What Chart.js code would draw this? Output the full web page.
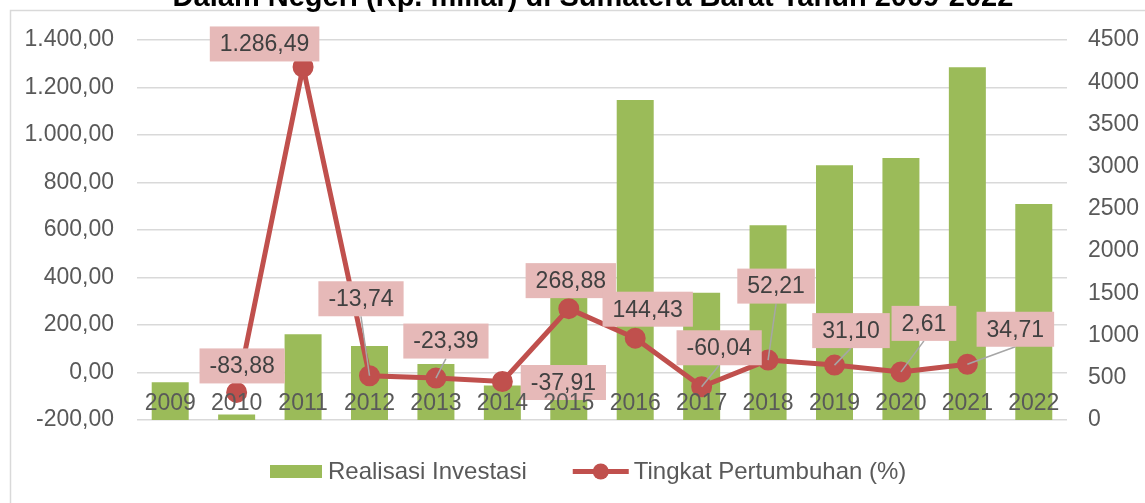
<!DOCTYPE html>
<html><head><meta charset="utf-8">
<script src="https://cdn.jsdelivr.net/npm/chart.js@4.4.0/dist/chart.umd.min.js"></script>
<style>html,body{margin:0;padding:0;background:#fff;}canvas{display:block;}</style>
</head><body>
<canvas id="c" width="1145" height="503"></canvas>
<script>
const categories = ['2009','2010','2011','2012','2013','2014','2015','2016','2017','2018','2019','2020','2021','2022'];
const investasi = [446, 65, 1015, 876, 663, 410, 1505, 3790, 1508, 2305, 3016, 3103, 4177, 2558];
const pertumbuhan = [null, -83.88, 1286.49, -13.74, -23.39, -37.91, 268.88, 144.43, -60.04, 52.21, 31.10, 2.61, 34.71, null];
const leftTickValues = [-200, 0, 200, 400, 600, 800, 1000, 1200, 1400];
const rightTickValues = [0, 500, 1000, 1500, 2000, 2500, 3000, 3500, 4000, 4500];
const seriesNames = ['Realisasi Investasi', 'Tingkat Pertumbuhan (%)'];
const titleText = 'Dalam Negeri (Rp. miliar) di Sumatera Barat Tahun 2009-2022';

// label placement (style only): offset of label box centre from its point, in px
const labelDx = [0, 5.5, -38.5, -8.5, 10, 61, 2, 12.5, 17.5, 8, 16.5, 23, 48, 0];
const labelDy = [0, -26.5, -23, -77, -37, 1, -28, -29, -39, -74, -34.5, -48.5, -35, 0];
const labelLeader = [false, false, false, true, true, false, false, false, true, true, true, true, true, false];

const FONT = '"Liberation Sans", Arial, sans-serif';
const GREEN = '#9BBB59', RED = '#C0504D', PINK = '#E6B9B8';

function fmtID(v) {
  const neg = v < 0;
  const parts = Math.abs(v).toFixed(2).split('.');
  const intPart = parts[0].replace(/\B(?=(\d{3})+(?!\d))/g, '.');
  return (neg ? '-' : '') + intPart + ',' + parts[1];
}

const decor = {
  id: 'decor',
  beforeDraw(chart) {
    const ctx = chart.ctx;
    ctx.save();
    ctx.fillStyle = '#fff';
    ctx.fillRect(0, 0, chart.width, chart.height);
    ctx.strokeStyle = '#d9d9d9';
    ctx.lineWidth = 1.5;
    ctx.strokeRect(10.5, 10.5, chart.width + 20, chart.height + 20);
    ctx.fillStyle = '#000';
    ctx.font = 'bold 29px ' + FONT;
    ctx.textAlign = 'center';
    ctx.textBaseline = 'alphabetic';
    ctx.fillText(titleText, 593, 6);
    ctx.restore();
  },
  afterDatasetsDraw(chart) {
    const ctx = chart.ctx;
    const meta = chart.getDatasetMeta(1);
    ctx.save();
    ctx.font = '23px ' + FONT;
    const boxes = [];
    pertumbuhan.forEach((v, i) => {
      if (v === null) return;
      const pt = meta.data[i];
      const txt = fmtID(v);
      const w = ctx.measureText(txt).width + 20;
      const h = 35;
      const cx = pt.x + labelDx[i], cy = pt.y + labelDy[i];
      boxes.push({txt, w, h, cx, cy, px: pt.x, py: pt.y, leader: labelLeader[i]});
    });
    ctx.strokeStyle = '#A6A6A6';
    ctx.lineWidth = 1.5;
    boxes.forEach(b => {
      if (!b.leader) return;
      ctx.beginPath();
      ctx.moveTo(b.cx, b.cy + b.h / 2);
      ctx.lineTo(b.px, b.py);
      ctx.stroke();
    });
    boxes.forEach(b => {
      ctx.fillStyle = PINK;
      ctx.fillRect(b.cx - b.w / 2, b.cy - b.h / 2, b.w, b.h);
      ctx.fillStyle = '#404040';
      ctx.textAlign = 'center';
      ctx.textBaseline = 'middle';
      ctx.fillText(b.txt, b.cx, b.cy + 1);
    });
    ctx.restore();
  },
  afterDraw(chart) {
    const ctx = chart.ctx;
    ctx.save();
    ctx.font = '24px ' + FONT;
    const w1 = ctx.measureText(seriesNames[0]).width;
    let x = 270;
    const y = 471.5;
    ctx.fillStyle = GREEN;
    ctx.fillRect(x, y - 6.5, 52, 13);
    x += 58;
    ctx.fillStyle = '#595959';
    ctx.textAlign = 'left';
    ctx.textBaseline = 'middle';
    ctx.fillText(seriesNames[0], x, y + 1);
    x += w1 + 46;
    ctx.strokeStyle = RED;
    ctx.lineWidth = 5;
    ctx.beginPath();
    ctx.moveTo(x, y); ctx.lineTo(x + 56, y);
    ctx.stroke();
    ctx.fillStyle = RED;
    ctx.beginPath();
    ctx.arc(x + 28, y, 8, 0, Math.PI * 2);
    ctx.fill();
    x += 61;
    ctx.fillStyle = '#595959';
    ctx.fillText(seriesNames[1], x, y + 1);
    ctx.restore();
  }
};

Chart.defaults.font.family = FONT;
Chart.defaults.color = '#595959';

new Chart(document.getElementById('c'), {
  data: {
    labels: categories,
    datasets: [
      {
        type: 'bar',
        label: seriesNames[0],
        data: investasi,
        yAxisID: 'y1',
        backgroundColor: GREEN,
        barPercentage: 0.557,
        categoryPercentage: 1,
        order: 2
      },
      {
        type: 'line',
        label: seriesNames[1],
        data: pertumbuhan,
        yAxisID: 'y',
        borderColor: RED,
        borderWidth: 5,
        backgroundColor: RED,
        pointRadius: 9.5,
        pointBorderWidth: 2,
        pointBorderColor: RED,
        pointBackgroundColor: RED,
        tension: 0,
        spanGaps: false,
        order: 1
      }
    ]
  },
  options: {
    responsive: false,
    animation: false,
    events: [],
    layout: { padding: { top: 40, bottom: 83, left: 0, right: 0 } },
    plugins: {
      legend: { display: false },
      tooltip: { enabled: false },
      title: { display: false }
    },
    scales: {
      x: {
        type: 'category',
        position: { y: 0 },
        offset: true,
        grid: { display: false, drawTicks: false },
        border: { display: false },
        ticks: { z: 1, font: { size: 23 }, color: '#595959', padding: 17, maxRotation: 0, autoSkip: false }
      },
      y: {
        type: 'linear',
        position: 'left',
        min: -200,
        max: 1400,
        afterBuildTicks(scale) { scale.ticks = leftTickValues.map(v => ({ value: v })); },
        afterFit(scale) { scale.width = 137; },
        grid: { color: '#d9d9d9', lineWidth: 1.5, drawTicks: false },
        border: { display: false },
        ticks: { font: { size: 23 }, color: '#595959', padding: 23, callback: (v) => fmtID(v) }
      },
      y1: {
        type: 'linear',
        position: 'right',
        min: 0,
        max: 4500,
        afterBuildTicks(scale) { scale.ticks = rightTickValues.map(v => ({ value: v })); },
        afterFit(scale) { scale.width = 78; },
        grid: { display: false, drawTicks: false },
        border: { display: false },
        ticks: { font: { size: 23 }, color: '#595959', padding: 21, callback: (v) => String(v) }
      }
    }
  },
  plugins: [decor]
});
</script>
</body></html>
